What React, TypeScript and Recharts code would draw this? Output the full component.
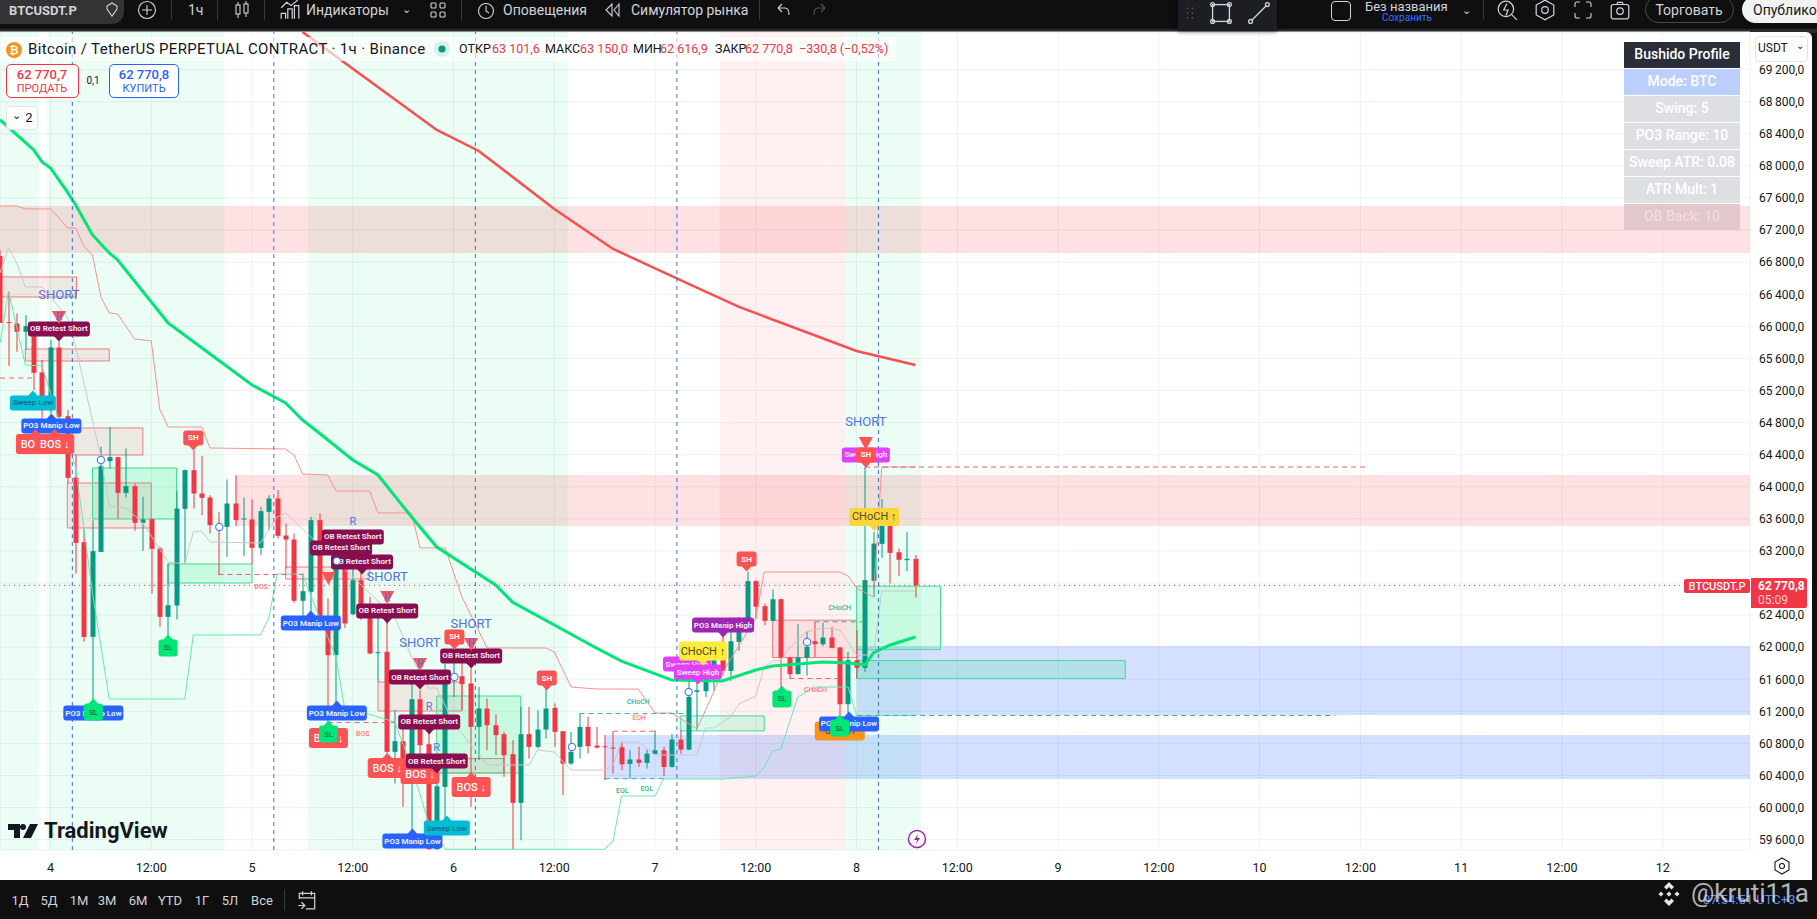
import React from "react";
import { ComposedChart, Bar, Line, XAxis, YAxis, CartesianGrid, ReferenceArea, ReferenceLine, ReferenceDot } from "recharts";

const firstHour = -6;
const opens = [66878,66053,66036,65932,66003,65425,64955,65737,64880,64116,63309,62128,63188,64319,64369,63924,64008,63550,63596,63230,62378,62519,63725,64207,63916,63866,63521,63500,63791,63596,63592,63238,63687,63854,63392,63342,62578,62690,63584,62295,61900,63064,62411,62835,62503,61925,61942,60695,60828,60383,61351,60790,59480,60258,61588,61638,61547,61006,61235,61027,60915,60666,60059,60915,60757,60973,61243,60952,60549,60757,61006,60773,60765,60748,60752,60545,60599,60557,60669,60715,60507,60848,60723,61443,61451,61650,61846,61704,62066,62349,62823,62511,62328,62598,61871,61663,61867,62074,62037,62120,61995,61289,61837,61742,62827,63288,63596,63184,63085,63101.6];
const highs = [66950,66431,66161,66140,66036,65579,65828,65808,64955,64394,63480,63584,64498,64747,64373,64477,64041,63875,63604,63251,63043,63945,64215,64457,64382,63895,63687,64091,64145,63866,63841,63750,63895,63958,63542,63417,62918,63625,63667,62607,63085,63085,63230,62960,62628,62420,62316,61214,61090,61547,61464,60923,60466,61796,61871,61879,61734,61505,61360,61164,60944,60840,61256,61256,61214,61484,61297,60952,60944,61173,61131,61006,60902,60952,60819,60715,60757,60723,60964,60757,60915,60964,61630,61630,61754,61871,62128,62245,62378,62939,62835,62544,62719,62607,61879,62286,62199,62315,62307,62253,62004,61941,62212,64249,63438,63845,63604,63230,63434,63150];
const lows = [66042,65508,65683,65704,65205,64831,64914,64747,64041,62918,62066,61339,63188,64228,63604,63866,63450,63201,62669,62253,62128,62345,63043,63729,63646,63417,62898,63126,63509,63135,63035,63147,63459,63355,62981,62553,62378,62420,62233,61006,61297,62241,62399,62337,61913,61568,60674,60300,60009,59718,60611,59480,59480,59863,61380,61214,60009,60591,60715,60653,60383,59480,59593,60611,60740,60861,60757,60154,60528,60611,60674,60736,60341,60424,60466,60362,60507,60486,60669,60391,60499,60673,60715,60964,61380,61455,61650,61580,61954,62212,62357,62274,62324,61484,61609,61663,61642,61879,62012,61983,61152,61172,61609,61692,62627,63114,62794,62885,62947,62616.9];
const closes = [66042,66044,65932,66003,65421,64955,65737,64872,64111,63301,62128,63197,64257,64369,63924,64008,63550,63592,63226,62378,62523,63729,64207,63916,63862,63521,63513,63791,63584,63604,63238,63696,63854,63388,63342,62578,62698,63584,62295,61900,63043,62295,62835,62503,61921,61938,60695,60828,60383,61351,60778,59480,60266,61588,61651,61539,61006,61235,61027,60903,60653,60059,60915,60757,60973,61235,60944,60549,60695,61006,60765,60748,60757,60744,60540,60599,60557,60673,60715,60507,60848,60723,61380,61463,61650,61846,61704,62074,62357,62823,62503,62328,62598,61871,61663,61871,62004,62037,62120,61991,61289,61837,61742,62835,63292,63596,63176,63089,63101.6,62770.8];

const fastEma: number[][] = [[-6,68574],[-4,68387],[-2,68200],[-1,68050],[0,67975],[2,67676],[3,67514],[4,67327],[5,67140],[7,66915],[8,66828],[14,66042],[24,65269],[28,65045],[30,64833],[32,64670],[36,64334],[39,64147],[43,63623],[46,63249],[53,62775],[55,62563],[60,62276],[65,61990],[68,61827],[74,61590],[80,61578],[84,61715],[86,61765],[92,61815],[95,61802],[97,61778],[98,61927],[100,62027],[103,62127]];
const slowEma: number[][] = [[30,69671],[46,68449],[51,68187],[60,67464],[67,66965],[76,66529],[82,66242],[96,65693],[103,65518]];
const upperBand: number[][] = [[-6,67501],[-4,67501],[-3,67464],[0,67464],[1,67352],[2,67227],[3,67227],[4,66990],[5,66890],[6,66366],[7,66167],[8,66154],[10,65843],[12,65818],[13,64970],[14,64745],[18,64745],[19,64483],[28,64471],[29,64396],[30,64159],[33,64147],[34,63947],[38,63947],[39,63673],[43,63673],[44,63237],[47,63237],[49,62625],[52,61990],[59,61990],[60,61940],[62,61503],[65,61478],[70,61478],[72,61179],[74,61179],[77,60979],[80,61678],[84,62364],[85,62937],[94,62937],[95,62887],[96,62738],[98,62625],[99,64246],[103,64246]];
const lowerBand: number[][] = [[-6,65793],[-5,66441],[-3,65518],[-1,65506],[0,65170],[1,64833],[3,64247],[5,62675],[7,61354],[16,61354],[17,62152],[25,62152],[26,62364],[27,62912],[30,62912],[32,62376],[34,61877],[35,61254],[41,61067],[43,60505],[45,59820],[47,59480],[66,59480],[67,59583],[68,60144],[72,60144],[73,60356],[80,60356],[84,60393],[85,60505],[86,60705],[87,60730],[89,61378],[91,61503],[95,61503],[96,61148],[103,61148]];
const midBand: number[][] = [[-6,66666],[-5,66977],[-4,66790],[-3,66491],[-1,66491],[2,66117],[3,65743],[6,64371],[7,63760],[9,63735],[11,63548],[14,63062],[16,63037],[17,63436],[18,63448],[19,63311],[25,63299],[27,63623],[28,63673],[31,63374],[41,62376],[43,61877],[45,61491],[46,61491],[48,61054],[52,60531],[57,60531],[58,60718],[60,60692],[62,60468],[66,60468],[67,60531],[68,60817],[70,60817],[72,60655],[77,60655],[78,60992],[79,60992],[81,61129],[82,61291],[84,61391],[85,61752],[86,61827],[87,61840],[88,61990],[90,62189],[92,62239],[94,62214],[96,61902],[98,61902],[99,62700],[103,62700]];

const xMin = -6.015, xMax = 202.4;
const yMin = 59471, yMax = 69670;
const timeTicks = [0,12,24,36,48,60,72,84,96,108,120,132,144,156,168,180,192];
const timeLabels = ["4","12:00","5","12:00","6","12:00","7","12:00","8","12:00","9","12:00","10","12:00","11","12:00","12"];
const priceTicks = [59600,60000,60400,60800,61200,61600,62000,62400,62800,63200,63600,64000,64400,64800,65200,65600,66000,66400,66800,67200,67600,68000,68400,68800,69200];
const sessionLines = [2.6,26.6,50.6,74.6,98.6];
const lastPrice = 62770.8;

// [h1, h2, tone]
const timeBands: [number, number, string][] = [[-6,-1.35,"g"],[-0.4,20.7,"g"],[30.67,61.6,"g"],[79.7,94.7,"r"],[94.7,103.7,"g"]];
// [h1, h2, p1, p2]
const wideZones: number[][] = [[-6,202.4,67501,66915],[22,202.4,64147,63511]];
const blueZones: number[][] = [[96,202.4,62014,61154],[66,202.4,60904,60356]];
const obBoxes: number[][] = [[-6,3.1,66616,66366],[-3,7,65718,65568],[2,11,64733,64396],[2,12,64047,63486],[28,38,62999,62850],[39,49,61566,61204],[46,54,60611,60431],[86,96,62336,61871]];
const fvgBoxes: number[][] = [[5,15,64234,63598],[14,24,63037,62800],[46,56,61391,60431],[75,85,61143,60956],[96,106,62760,61970],[96,128,61833,61609]];
// [h1, h2, price, tone]
const dashSegments: [number, number, number, string][] = [[-6,-2,65356,"r"],[20,30,62906,"r"],[33,41,61060,"r"],[63,76,61172,"g"],[67,72,60952,"r"],[66,73,60360,"g"],[88,94,61609,"r"],[91,97,62316,"g"],[97,157,64246,"r"],[95,153,61148,"g"]];

type TagRow = [string, string, number, number];
const tags: TagRow[] = [
  ["ob","OB Retest Short",1.0,65967],
  ["sweepLow","Sweep Low",-2.1,65045],
  ["po3Low","PO3 Manip Low",0.1,64758],
  ["bos","BOS ↓",-1.8,64533],
  ["bos","BOS ↓",0.5,64533],
  ["po3Low","PO3 Manip Low",5.1,61179],
  ["sl","SL",5.1,61191],
  ["sl","SL",14.0,61990],
  ["sh","SH",17.0,64608],
  ["ob","OB Retest Short",36.0,63374],
  ["ob","OB Retest Short",34.6,63237],
  ["ob","OB Retest Short",37.1,63062],
  ["po3Low","PO3 Manip Low",31.0,62301],
  ["ob","OB Retest Short",40.1,62451],
  ["po3Low","PO3 Manip Low",34.1,61179],
  ["bos","BOS ↓",33.1,60867],
  ["sl","SL",33.1,60917],
  ["bos","BOS ↓",40.1,60493],
  ["bos","BOS ↓",44.0,60418],
  ["ob","OB Retest Short",44.0,61628],
  ["ob","OB Retest Short",45.1,61067],
  ["ob","OB Retest Short",46.0,60580],
  ["ob","OB Retest Short",50.1,61890],
  ["sh","SH",48.1,62127],
  ["sh","SH",59.1,61615],
  ["bos","BOS ↓",50.1,60256],
  ["po3Low","PO3 Manip Low",43.1,59583],
  ["sweepLow","Sweep Low",47.2,59745],
  ["sweepHigh","Sweep High",75.8,61790],
  ["sweepHigh","Sweep High",77.1,61690],
  ["choch","CHoCH ↑",77.7,61952],
  ["po3High","PO3 Manip High",80.1,62276],
  ["sh","SH",82.9,63099],
  ["sl","SL",87.1,61354],
  ["orange","CHoCH",94,60954],
  ["po3Low","PO3 Manip Low",95.1,61042],
  ["sl","SL",94,60992],
  ["sweepHigh","Sweep High",97.1,64396],
  ["sh","SH",97.1,64396],
  ["chochDark","CHoCH ↑",98.1,63623],
  ["short","SHORT",1.0,66391],
  ["short","SHORT",40.1,62875],
  ["short","SHORT",44.0,62064],
  ["short","SHORT",50.1,62301],
  ["short","SHORT",97.1,64808],
  ["tri","",1.0,66117],["tri","",33.1,62862],["tri","",40.1,62625],["tri","",44.0,61790],["tri","",50.1,62039],["tri","",97.1,64546],
  ["r","R",1.0,66129],["r","R",36.0,63561],["r","R",40.1,62625],["r","R",44.0,61802],["r","R",45.1,61266],["r","R",46.0,60755],["r","R",50.1,62064],
  ["tinyRed","BOS",25.1,62750],["tinyRed","BOS",37.2,60917],
  ["tinyGreen","CHoCH",70,61316],["tinyGreen","CHoCH",94,62488],["tinyRed","CHoCH",91.1,61466],
  ["tinyRed","EQH",70.1,61116],["tinyGreen","EQL",68.1,60206],["tinyGreen","EQL",71,60231],
  ["ring","",6.0,64334],["ring","",20.1,63498],["ring","",34.1,63074],["ring","",48.1,61628],["ring","",62.1,60755],["ring","",76.0,61441],["ring","",90.1,62064],
];

const tableRows: [string, string, string][] = [
  ["Bushido Profile","#2a2e39","#ffffff"],["Mode: BTC","#bbcfff","#ffffff"],["Swing: 5","#dddfe3","#ffffff"],["PO3 Range: 10","#dddfe3","#ffffff"],["Sweep ATR: 0.08","#dddfe3","#ffffff"],["ATR Mult: 1","#dddfe3","#ffffff"],["OB Back: 10","#e2c8cc","#f3dada"],
];
const rangeButtons: [string, number][] = [["1Д",20],["5Д",49],["1М",79],["3М",107],["6М",138],["YTD",170],["1Г",202],["5Л",230],["Все",262]];
const legendParts: [string, number, string][] = [["ОТКР",459,"#131722"],["63 101,6",492,"#f23645"],["МАКС",545,"#131722"],["63 150,0",580,"#f23645"],["МИН",633,"#131722"],["62 616,9",660,"#f23645"],["ЗАКР",715,"#131722"],["62 770,8",745,"#f23645"],["−330,8 (−0,52%)",799,"#f23645"]];

const rows = opens.map((o, i) => {
  const h = firstHour + i;
  return { h, open: o, high: highs[i], low: lows[i], close: closes[i], range: [lows[i], highs[i]] } as any;
});
const addSeries = (name: string, pairs: number[][]) => {
  pairs.forEach(([h, v]) => { const r = rows[h - firstHour]; if (r) r[name] = v; });
};
addSeries("fast", fastEma); addSeries("slow", slowEma); addSeries("upper", upperBand); addSeries("lower", lowerBand); addSeries("mid", midBand);

const FONT = "Roboto, 'Liberation Sans', sans-serif";
const fmtPrice = (v: number) => { const s = String(v); return s.slice(0, 2) + "\u2009" + s.slice(2) + ",0"; };

const Candle = (props: any) => {
  const { x, y, width, height, payload } = props;
  if (!payload) return null;
  const { open, close, high, low } = payload;
  const up = close >= open;
  const color = up ? "#089981" : "#f23645";
  const k = height / (high - low);
  const top = y + (high - Math.max(open, close)) * k;
  const bh = Math.max(1, Math.abs(open - close) * k);
  const cx = Math.round(x + width / 2);
  return (
    <g>
      <rect x={cx - 0.5} y={y} width={1} height={height} fill={color} />
      <rect x={cx - 2.5} y={top} width={5} height={bh} fill={color} />
    </g>
  );
};

const STYLES: any = {
  ob: { w: 62, h: 15, bg: "#880e4f", fg: "#f5e3ec", fs: 8, tail: "down", fw: 700 },
  po3Low: { w: 60, h: 15, bg: "#2962ff", fg: "#e8edff", fs: 8, tail: "up", fw: 700 },
  po3High: { w: 62, h: 15, bg: "#9c27b0", fg: "#f6e6f8", fs: 8, tail: "down", fw: 700 },
  sweepLow: { w: 46, h: 15, bg: "#00bcd4", fg: "#0b5a70", fs: 8, tail: "up", fw: 400 },
  sweepHigh: { w: 48, h: 15, bg: "#e040fb", fg: "#fbe4ff", fs: 8, tail: "down", fw: 700 },
  bos: { w: 39, h: 20, bg: "#ff5252", fg: "#fff", fs: 11, tail: "up", fw: 500 },
  sl: { w: 19, h: 17, bg: "#00e676", fg: "#0a5a3a", fs: 8, tail: "up", fw: 400 },
  sh: { w: 20, h: 15, bg: "#ff5252", fg: "#fff", fs: 8, tail: "down", fw: 700 },
  choch: { w: 48, h: 19, bg: "#ffeb3b", fg: "#4d4520", fs: 11, tail: "down", fw: 400 },
  chochDark: { w: 50, h: 18, bg: "#fbd53c", fg: "#5a4b20", fs: 11, tail: "down", fw: 400 },
  orange: { w: 50, h: 19, bg: "#f7941d", fg: "#5a3a00", fs: 9, tail: "none", fw: 400 },
};

const Tag = ({ cx, cy, kind, text }: any) => {
  if (cx == null || cy == null) return null;
  if (kind === "short") return <text x={cx} y={cy} textAnchor="middle" dominantBaseline="central" fontFamily={FONT} fontSize={13} fill="#4f74e3">{text}</text>;
  if (kind === "r") return <text x={cx} y={cy} textAnchor="middle" dominantBaseline="central" fontFamily={FONT} fontSize={11} fill="#4f74e3">{text}</text>;
  if (kind === "tinyRed" || kind === "tinyGreen") return <text x={cx} y={cy} textAnchor="middle" dominantBaseline="central" fontFamily={FONT} fontSize={7} fontWeight={500} fill={kind === "tinyRed" ? "#ff7b7b" : "#2fb792"}>{text}</text>;
  if (kind === "tri") return <path d={`M${cx - 7},${cy - 6}H${cx + 7}L${cx},${cy + 7}Z`} fill="#ff5252" />;
  if (kind === "ring") return <circle cx={cx} cy={cy} r={3.6} fill="#fff" stroke="#2962ff" strokeWidth={1.2} strokeOpacity={0.8} />;
  const s = STYLES[kind];
  const l = cx - s.w / 2, t = cy - s.h / 2, b = cy + s.h / 2;
  return (
    <g>
      <rect x={l} y={t} width={s.w} height={s.h} rx={3} fill={s.bg} />
      {s.tail === "down" && <path d={`M${cx - 5},${b - 0.5}H${cx + 5}L${cx},${b + 5}Z`} fill={s.bg} />}
      {s.tail === "up" && <path d={`M${cx - 5},${t + 0.5}H${cx + 5}L${cx},${t - 5}Z`} fill={s.bg} />}
      <text x={cx} y={cy} textAnchor="middle" dominantBaseline="central" fontFamily={FONT} fontSize={s.fs} fontWeight={s.fw} fill={s.fg}>{text}</text>
    </g>
  );
};

const T = ({ x, y, s = 13, c = "#d1d4dc", w = 400, a = "left", ls = 0, children }: any) => (
  <div style={{ position: "absolute", left: x, top: y, fontSize: s, color: c, fontWeight: w, letterSpacing: ls, whiteSpace: "nowrap", lineHeight: 1, fontFamily: FONT,
    transform: a === "center" ? "translate(-50%,-50%)" : a === "right" ? "translate(-100%,-50%)" : "translateY(-50%)" }}>{children}</div>
);
const Sep = ({ x, y = 0, h = 20 }: any) => <div style={{ position: "absolute", left: x, top: y, width: 1, height: h, background: "#3a3a3a" }} />;
const Box = ({ x, y, w, h, style, children }: any) => <div style={{ position: "absolute", left: x, top: y, width: w, height: h, boxSizing: "border-box", ...style }}>{children}</div>;
const Icon = ({ x, y, size = 20, children }: any) => (
  <svg style={{ position: "absolute", left: x - size / 2, top: y - size / 2 }} width={size} height={size} viewBox="0 0 20 20" fill="none" stroke="#d1d4dc" strokeWidth={1.1}>{children}</svg>
);

export default function App() {
  return (
    <div style={{ position: "fixed", left: 0, top: 0, width: 1817, height: 919, overflow: "hidden", background: "#0f0f0f", fontFamily: FONT }}>
      <Box x={0} y={29} w={1817} h={4} style={{ background: "#2a2a2a" }} />
      <Box x={0} y={32} w={1812} h={848} style={{ background: "#fff", borderRadius: "0 6px 0 0" }} />
      <div style={{ position: "absolute", left: 0, top: 0 }}>
        <ComposedChart width={1817} height={919} data={rows} margin={{ top: 32, right: 0, bottom: 39, left: 0 }}>
          <CartesianGrid stroke="#eef1f6" strokeWidth={1} />
          <XAxis dataKey="h" type="number" domain={[xMin, xMax]} allowDataOverflow ticks={timeTicks} interval={0} height={30} axisLine={false} tickLine={false} tickMargin={7}
            tick={{ fontSize: 12.5, fill: "#131722", fontFamily: FONT }} tickFormatter={(v: number) => timeLabels[timeTicks.indexOf(v)] ?? ""} />
          <YAxis orientation="right" type="number" domain={[yMin, yMax]} allowDataOverflow ticks={priceTicks} interval={0} width={67} axisLine={false} tickLine={false} tickMargin={3}
            tick={{ fontSize: 12, fill: "#131722", fontFamily: FONT, textAnchor: "start" }} tickFormatter={fmtPrice} />
          {timeBands.map(([a, b, tone], i) => (
            <ReferenceArea key={"tb" + i} x1={a} x2={b} y1={yMin} y2={yMax} fill={tone === "g" ? "#00e676" : "#ff5252"} fillOpacity={0.08} stroke="none" ifOverflow="hidden" />
          ))}
          {wideZones.map(([a, b, p1, p2], i) => (
            <ReferenceArea key={"wz" + i} x1={a} x2={b} y1={p2} y2={p1} fill="#f23645" fillOpacity={0.15} stroke="none" ifOverflow="hidden" />
          ))}
          {blueZones.map(([a, b, p1, p2], i) => (
            <ReferenceArea key={"bz" + i} x1={a} x2={b} y1={p2} y2={p1} fill="#2962ff" fillOpacity={0.2} stroke="none" ifOverflow="hidden" />
          ))}
          {obBoxes.map(([a, b, p1, p2], i) => (
            <ReferenceArea key={"ob" + i} x1={a} x2={b} y1={p2} y2={p1} fill="#f23645" fillOpacity={0.1} stroke="#f7797f" strokeWidth={1} ifOverflow="hidden" />
          ))}
          {fvgBoxes.map(([a, b, p1, p2], i) => (
            <ReferenceArea key={"fv" + i} x1={a} x2={b} y1={p2} y2={p1} fill="#00e676" fillOpacity={0.15} stroke="#45d996" strokeWidth={1} ifOverflow="hidden" />
          ))}
          <Line dataKey="mid" connectNulls dot={false} activeDot={false} stroke="#c9c9c9" strokeWidth={1} isAnimationActive={false} legendType="none" />
          <Line dataKey="upper" connectNulls dot={false} activeDot={false} stroke="#f7928f" strokeWidth={1} isAnimationActive={false} legendType="none" />
          <Line dataKey="lower" connectNulls dot={false} activeDot={false} stroke="#69e8b0" strokeWidth={1} isAnimationActive={false} legendType="none" />
          <Line dataKey="fast" connectNulls dot={false} activeDot={false} stroke="#00e676" strokeWidth={3} isAnimationActive={false} legendType="none" />
          <Line dataKey="slow" connectNulls dot={false} activeDot={false} stroke="#f9504f" strokeWidth={2.5} isAnimationActive={false} legendType="none" />
          <Bar dataKey="range" barSize={5} shape={Candle} isAnimationActive={false} />
          {dashSegments.map(([a, b, p, tone], i) => (
            <ReferenceLine key={"ds" + i} segment={[{ x: a, y: p }, { x: b, y: p }]} stroke={tone === "r" ? "#f2606a" : "#2fb792"} strokeWidth={1} strokeDasharray="5 4" ifOverflow="hidden" isFront />
          ))}
          {sessionLines.map((h, i) => (
            <ReferenceLine key={"sl" + i} x={h} stroke="#3b6fe6" strokeWidth={1} strokeDasharray="4 4" isFront />
          ))}
          <ReferenceLine y={lastPrice} stroke="#f23645" strokeWidth={1} strokeDasharray="1 4" isFront />
          {tags.map(([kind, text, h, p], i) => (
            <ReferenceDot key={"tg" + i} x={h} y={p} r={1} isFront shape={(pr: any) => <Tag {...pr} kind={kind} text={text} />} />
          ))}
        </ComposedChart>
      </div>

      {/* top toolbar */}
      <Box x={0} y={0} w={124} h={24} style={{ background: "#333333", borderRadius: "0 0 12px 0" }} />
      <T x={9} y={10} s={13} w={700} c="#d1d4dc">BTCUSDT.P</T>
      <Icon x={112} y={10}><path d="M5 6l5-3 5 3v3l-5 7-5-7z" /></Icon>
      <Icon x={147} y={10}><circle cx="10" cy="10" r="8.500" /><path d="M10 5v10M5 10h10" /></Icon>
      <Sep x={171} y={0} />
      <T x={188} y={10} s={14}>1ч</T>
      <Sep x={217} y={0} />
      <Icon x={242} y={10}><path d="M6 2v16M14 1v16" /><rect x="4" y="5" width="4" height="9" fill="#0f0f0f" /><rect x="12" y="4" width="4" height="9" fill="#0f0f0f" /></Icon>
      <Sep x={264} y={0} />
      <Icon x={290} y={10} size={22}><path d="M2 18V13h4v5M8 18V9h4v9M14 18V6h4v12M2 8l5-5 4 3 6-5" /></Icon>
      <T x={306} y={10} s={14}>Индикаторы</T>
      <T x={402} y={9} s={11}>⌄</T>
      <Icon x={438} y={10}><rect x="3" y="3" width="5" height="5" rx="1" /><rect x="12" y="3" width="5" height="5" rx="1" /><rect x="3" y="12" width="5" height="5" rx="1" /><rect x="12" y="12" width="5" height="5" rx="1" /></Icon>
      <Sep x={461} y={0} />
      <Icon x={486} y={11}><circle cx="10" cy="10" r="7.500" /><path d="M10 5v5l3 2" /></Icon>
      <T x={503} y={10} s={14}>Оповещения</T>
      <Icon x={613} y={10}><path d="M9 4l-6 6 6 6zM16 4l-5 6 5 6z" /></Icon>
      <T x={631} y={10} s={14}>Симулятор рынка</T>
      <Sep x={759} y={0} />
      <Icon x={783} y={10}><path d="M5 8l4-4M5 8l4 4M5 8h7c3 0 4 3 4 7" /></Icon>
      <Icon x={820} y={10}><path d="M15 8l-4-4M15 8l-4 4M15 8H8c-3 0-4 3-4 7" stroke="#555" /></Icon>
      <Box x={1178} y={0} w={99} h={31} style={{ background: "#1c1e24", boxShadow: "0 1px 4px rgba(0,0,0,.5)" }} />
      <Icon x={1190} y={13} size={16}><path d="M7 4h.01M13 4h.01M7 10h.01M13 10h.01M7 16h.01M13 16h.01" stroke="#666" strokeWidth={2} strokeLinecap="round" /></Icon>
      <Icon x={1221} y={13} size={24}><rect x="3" y="3" width="14" height="14" /><circle cx="3" cy="3" r="1.600" /><circle cx="17" cy="3" r="1.600" /><circle cx="3" cy="17" r="1.600" /><circle cx="17" cy="17" r="1.600" /></Icon>
      <Icon x={1259} y={13} size={24}><path d="M4 16L16 4" /><circle cx="3" cy="17" r="1.600" /><circle cx="17" cy="3" r="1.600" /></Icon>
      <Box x={1331} y={1} w={20} h={20} style={{ border: "1px solid #d1d4dc", borderRadius: 4 }} />
      <T x={1365} y={6} s={13}>Без названия</T>
      <T x={1382} y={18} s={10} c="#2f6fff">Сохранить</T>
      <T x={1462} y={10} s={11}>⌄</T>
      <Sep x={1483} y={0} />
      <Icon x={1507} y={10} size={22}><circle cx="9" cy="9" r="7" /><path d="M14 14l5 5M10 4l-3 6h4l-2 5" /></Icon>
      <Icon x={1545} y={10} size={22}><path d="M10 1l8 4.500v9L10 19l-8-4.500v-9z" /><circle cx="10" cy="10" r="3" /></Icon>
      <Icon x={1583} y={10} size={20}><path d="M2 7V4a2 2 0 012-2h3M13 2h3a2 2 0 012 2v3M18 13v3a2 2 0 01-2 2h-3M7 18H4a2 2 0 01-2-2v-3" /></Icon>
      <Icon x={1620} y={10} size={22}><rect x="2" y="5" width="16" height="13" rx="2" /><circle cx="10" cy="11" r="3" /><path d="M7 5l1-2h4l1 2" /></Icon>
      <Box x={1645} y={-4} w={89} h={27} style={{ border: "1px solid #4a4a4a", borderRadius: 14 }} />
      <T x={1689} y={10} s={14} a="center">Торговать</T>
      <Box x={1742} y={-4} w={100} h={27} style={{ background: "#f0f3f2", borderRadius: 14 }} />
      <T x={1753} y={10} s={14} c="#131722">Опублико</T>

      {/* legend */}
      <Box x={0} y={37} w={896} h={24} style={{ background: "rgba(255,255,255,.65)" }} />
      <svg style={{ position: "absolute", left: 5, top: 41 }} width={18} height={18}><circle cx="9" cy="9" r="8" fill="#f7931a" /><text x="9" y="13" textAnchor="middle" fontSize="11" fontWeight="700" fill="#fff" fontFamily={FONT}>₿</text></svg>
      <T x={28} y={49} s={15} ls={0.35} c="#131722">Bitcoin / TetherUS PERPETUAL CONTRACT · 1ч · Binance</T>
      <svg style={{ position: "absolute", left: 433, top: 40 }} width={18} height={18}><circle cx="9" cy="9" r="8" fill="#d6f1ea" /><circle cx="9" cy="9" r="3.500" fill="#089981" /></svg>
      {legendParts.map(([t, x, c], i) => <T key={"lg" + i} x={x} y={49} s={12.5} c={c}>{t}</T>)}
      <Box x={6} y={64} w={73} h={34} style={{ background: "#fff", border: "1px solid #f23645", borderRadius: 5 }} />
      <T x={42} y={74} s={13} w={500} c="#f23645" a="center">62 770,7</T>
      <T x={42} y={88} s={11} c="#f23645" a="center">ПРОДАТЬ</T>
      <T x={93} y={81} s={10} c="#131722" a="center">0,1</T>
      <Box x={109} y={64} w={70} h={34} style={{ background: "#fff", border: "1px solid #2962ff", borderRadius: 5 }} />
      <T x={144} y={74} s={13} w={500} c="#2962ff" a="center">62 770,8</T>
      <T x={144} y={88} s={11} c="#2962ff" a="center">КУПИТЬ</T>
      <Box x={6} y={106} w={32} h={24} style={{ background: "#fff", border: "1px solid #e0e3eb", borderRadius: 4 }} />
      <T x={16} y={115} s={11} c="#131722" a="center">⌄</T>
      <T x={29} y={117} s={13} c="#131722" a="center">2</T>

      {/* table */}
      {tableRows.map(([t, bg, fg], i) => (
        <Box key={"tr" + i} x={1624} y={42 + i * 27} w={116} h={26} style={{ background: bg, color: fg, fontSize: 14, fontWeight: 500, paddingBottom: 2, display: "flex", alignItems: "center", justifyContent: "center", fontFamily: FONT, whiteSpace: "nowrap" }}>{t}</Box>
      ))}
      <Box x={1755} y={36} w={53} h={26} style={{ background: "#fff", border: "1px solid #e0e3eb", borderRadius: 4 }} />
      <T x={1758} y={48} s={12} c="#131722">USDT</T>
      <T x={1800} y={46} s={10} c="#131722" a="center">⌄</T>

      {/* last price tags */}
      <Box x={1684} y={579} w={66} h={14} style={{ background: "#f23645", borderRadius: 2 }} />
      <T x={1717} y={586} s={11} w={500} c="#fff" a="center">BTCUSDT.P</T>
      <Box x={1751} y={578} w={56} h={30} style={{ background: "#f23645", borderRadius: "0 2px 2px 0" }} />
      <T x={1758} y={586} s={12} w={700} c="#fff">62{"\u2009"}770,8</T>
      <T x={1758} y={600} s={12} c="#ffd0d4">05:09</T>

      {/* logo and bolt */}
      <svg style={{ position: "absolute", left: 8, top: 822 }} width={30} height={18} viewBox="0 0 30 18"><path d="M0 2h12v14H6V8H0zM15 2a3 3 0 110 6 3 3 0 010-6zM22 2h8l-7 14h-8z" fill="#131722" /></svg>
      <T x={44} y={831} s={22} w={700} c="#131722">TradingView</T>
      <svg style={{ position: "absolute", left: 907, top: 829 }} width={20} height={20}><circle cx="10" cy="10" r="8.500" fill="#fff" stroke="#9c27b0" strokeWidth="1.500" /><path d="M11 5l-4 6h3l-1 4 4-6h-3z" fill="#9c27b0" /></svg>
      <Icon x={1782} y={866} size={20}><path d="M10 2l7 4v8l-7 4-7-4V6z" stroke="#131722" /><circle cx="10" cy="10" r="2.500" stroke="#131722" /></Icon>

      {/* bottom bar */}
      {rangeButtons.map(([t, x]) => <T key={t} x={x} y={900} s={13} a="center">{t}</T>)}
      <Sep x={284} y={889} h={22} />
      <Icon x={307} y={900} size={22}><path d="M3 9V4h14v14H9M3 8h14M6 2v4M14 2v4M2 15h6M5 12l3 3-3 3" /></Icon>
      <T x={1703} y={899} s={13} c="#5b8cff">07:54:51 UTC+3</T>
      <svg style={{ position: "absolute", left: 1656, top: 881 }} width={26} height={26} viewBox="0 0 26 26"><path d="M13 1l5 5-2.500 2.500L13 6l-2.500 2.500L8 6zM5 10.500L7.500 13 5 15.500 2.500 13zM21 10.500l2.500 2.500-2.500 2.500-2.500-2.500zM13 10.500l2.500 2.500-2.500 2.500-2.500-2.500zM8 20l2.500-2.500L13 20l2.500-2.500L18 20l-5 5z" fill="#e6e6e6" /></svg>
      <T x={1691} y={893} s={26} c="rgba(235,235,235,.75)">@kruti11a</T>
    </div>
  );
}
